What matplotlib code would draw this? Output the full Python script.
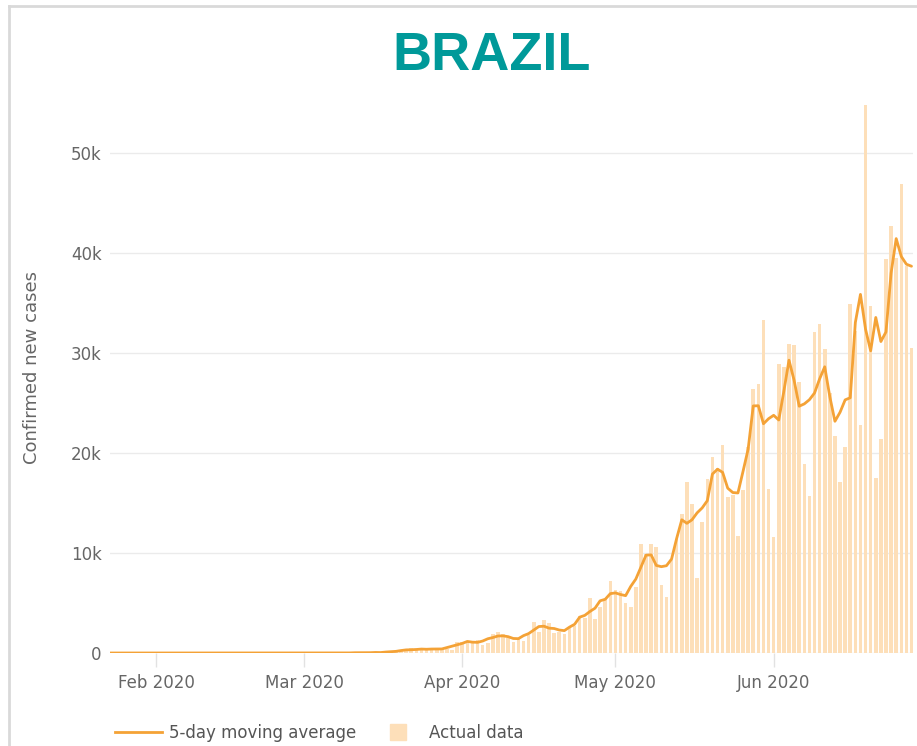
import numpy as np
import pandas as pd
import matplotlib
matplotlib.use("Agg")
import matplotlib.pyplot as plt
import matplotlib.dates as mdates
from matplotlib.lines import Line2D
from matplotlib.ticker import FuncFormatter

# daily confirmed new cases, Brazil, from 23 Jan 2020
start_date = "2020-01-23"

cases_jan_feb = [0] * 34 + [1, 0, 0, 1]

cases_mar = [0, 0, 0, 2, 4, 5, 0, 7, 5, 6, 7, 14, 99, 0, 11, 38,
             121, 51, 249, 172, 228, 525, 378, 323, 307, 431, 432, 487,
             352, 323, 1138]

cases_apr = [1119, 1208, 1012, 1304, 770, 1031, 1873, 2136, 1922, 1546,
             1089, 1465, 1238, 1832, 3058, 2105, 3257, 2976, 1996, 2089,
             1927, 2498, 2678, 3735, 3503, 5514, 3379, 4613, 5385, 7200]

cases_may = [6276, 6209, 4970, 4588, 6633, 10900, 9888, 10900, 10611, 6760,
             5632, 9258, 11385, 13944, 17100, 14919, 7500, 13140, 17408, 19600,
             18508, 20803, 15600, 15813, 11687, 16324, 20599, 26417, 26928, 33274,
             16409]

cases_jun = [11598, 28936, 28633, 30925, 30830, 27075, 18912, 15654, 32091, 32913,
             30412, 25982, 21704, 17110, 20647, 34918, 32188, 22765, 54771, 34666,
             17459, 21432, 39436, 42725, 39483, 46860, 38693, 30476]

new_cases = cases_jan_feb + cases_mar + cases_apr + cases_may + cases_jun
dates = pd.date_range(start_date, periods=len(new_cases), freq="D")

# 5-day moving average (centred)
avg = pd.Series(new_cases).rolling(5, center=True, min_periods=1).mean()

bar_color = "#fddfb9"
line_color = "#f4a236"
text_color = "#666666"

fig = plt.figure(figsize=(9.17, 7.46), dpi=100)
ax = fig.add_axes([110 / 917, 93 / 746, 803 / 917, 555 / 746])

ax.bar(dates, new_cases, width=0.7, color=bar_color, zorder=2)
ax.plot(dates, avg, color=line_color, lw=2.0, zorder=3, solid_capstyle="round")

ax.set_xlim(dates[0], dates[-1] + pd.Timedelta(hours=7))
ax.set_ylim(0, 55500)

ax.set_yticks([0, 10000, 20000, 30000, 40000, 50000])
ax.yaxis.set_major_formatter(FuncFormatter(lambda v, p: "0" if v == 0 else f"{int(v / 1000)}k"))
ax.grid(axis="y", color="#ebebeb", lw=1, zorder=0)
ax.set_axisbelow(True)

ax.xaxis.set_major_locator(mdates.MonthLocator())
ax.xaxis.set_major_formatter(mdates.DateFormatter("%b %Y"))

for s in ax.spines.values():
    s.set_visible(False)

ax.tick_params(axis="y", length=0, pad=6, labelsize=12, labelcolor=text_color)
ax.tick_params(axis="x", length=10, width=1, color="#e2e2e2", pad=5,
               labelsize=12, labelcolor=text_color)

fig.text(32 / 917, 1 - 367 / 746, "Confirmed new cases", rotation=90,
         ha="center", va="center", fontsize=13, color=text_color)

fig.text(492 / 917, 1 - 56 / 746, "BRAZIL", ha="center", va="center",
         fontsize=39, fontweight="bold", family="Liberation Sans", color="#009999")

# light frame at left and top
fig.add_artist(Line2D([9 / 917, 9 / 917], [0, 1 - 6 / 746], color="#d9d9d9", lw=2,
                      transform=fig.transFigure))
fig.add_artist(Line2D([9 / 917, 1], [1 - 6 / 746, 1 - 6 / 746], color="#d9d9d9", lw=2,
                      transform=fig.transFigure))

handles = [Line2D([0], [0], color=line_color, lw=2.0),
           Line2D([0], [0], marker="s", ls="none", markersize=12,
                  markerfacecolor=bar_color, markeredgecolor=bar_color)]
fig.legend(handles, ["5-day moving average", "Actual data"],
           loc="center left", bbox_to_anchor=(115 / 917, 13 / 746), ncol=2,
           frameon=False, fontsize=12, labelcolor="#555555",
           handlelength=2.8, handletextpad=0.45, columnspacing=1.1,
           borderpad=0, borderaxespad=0)

fig.savefig("out.png", dpi=100, facecolor="white")
